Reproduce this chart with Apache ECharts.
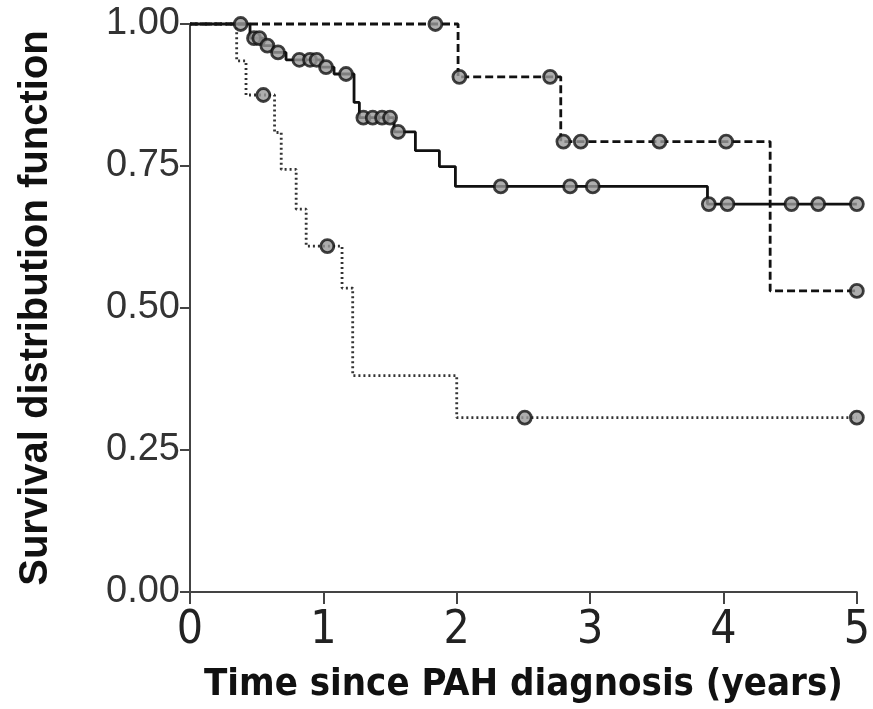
<!DOCTYPE html>
<html>
<head>
<meta charset="utf-8">
<style>html,body{margin:0;padding:0;background:#fff;}#c{width:873px;height:709px;}</style>
<script src="https://cdn.jsdelivr.net/npm/echarts@6/dist/echarts.min.js"></script>
</head>
<body>
<div id="c"></div>
<script>
// Axis ticks
const xTicks = [0, 1, 2, 3, 4, 5];
const yTicks = [0, 0.25, 0.5, 0.75, 1.0];
const xTitle = 'Time since PAH diagnosis (years)';
const yTitle = 'Survival distribution function';

// Solid curve: [time, survival] at each step
const solidSteps = [[0,1],[0.45,0.975],[0.55,0.962],[0.62,0.950],[0.72,0.937],[0.98,0.924],[1.08,0.912],[1.23,0.862],[1.27,0.835],[1.53,0.810],[1.69,0.777],[1.87,0.749],[1.99,0.714],[3.88,0.683],[5.0,0.683]];
const solidCensored = [[0.48,0.975],[0.52,0.975],[0.58,0.962],[0.66,0.950],[0.82,0.937],[0.90,0.937],[0.95,0.937],[1.02,0.924],[1.17,0.912],[1.30,0.835],[1.37,0.835],[1.44,0.835],[1.50,0.835],[1.56,0.810],[2.33,0.714],[2.85,0.714],[3.02,0.714],[3.89,0.683],[4.03,0.683],[4.51,0.683],[4.71,0.683],[5.0,0.683]];

// Dashed curve
const dashedSteps = [[0,1],[2.01,0.907],[2.78,0.793],[4.35,0.530],[5.0,0.530]];
const dashedCensored = [[0.38,1],[1.84,1],[2.02,0.907],[2.70,0.907],[2.80,0.793],[2.93,0.793],[3.52,0.793],[4.02,0.793],[5.0,0.530]];

// Dotted curve
const dottedSteps = [[0,1],[0.35,0.935],[0.42,0.875],[0.634,0.809],[0.684,0.744],[0.796,0.674],[0.871,0.609],[1.14,0.535],[1.22,0.381],[2.0,0.307],[5.0,0.307]];
const dottedCensored = [[0.55,0.875],[1.03,0.609],[2.51,0.307],[5.0,0.307]];

const chart = echarts.init(document.getElementById('c'));
const markStyle = {color:'#9a9a9a', borderColor:'#111', borderWidth:2.8};
function stepSeries(data, type, color){
  return {type:'line', step:'end', data:data, symbol:'none', clip:false,
    lineStyle:{color:color, width:2.8, type:type}, z:2};
}
function censorSeries(data){
  return {type:'scatter', data:data, symbol:'circle', symbolSize:13, clip:false,
    itemStyle:markStyle, z:3};
}
chart.setOption({
  animation:false,
  backgroundColor:'#fff',
  grid:{left:190, right:13, top:24, bottom:115},
  xAxis:{type:'value', min:xTicks[0], max:xTicks[xTicks.length-1], interval:1,
    splitLine:{show:false},
    axisLine:{lineStyle:{color:'#444', width:2}},
    axisTick:{length:12, lineStyle:{color:'#444', width:2}},
    axisLabel:{margin:16, fontSize:46, color:'#222', fontFamily:'"Liberation Sans Narrow","DejaVu Sans Condensed",sans-serif'},
    name:xTitle, nameLocation:'middle', nameGap:74,
    nameTextStyle:{fontSize:38, fontWeight:'bold', color:'#111', fontFamily:'"Liberation Sans Narrow","DejaVu Sans Condensed",sans-serif'}
  },
  yAxis:{type:'value', min:yTicks[0], max:yTicks[yTicks.length-1], interval:0.25,
    splitLine:{show:false},
    axisLine:{show:true, lineStyle:{color:'#444', width:2}},
    axisTick:{show:true, length:10, lineStyle:{color:'#444', width:2}},
    axisLabel:{margin:10, fontSize:38, color:'#333', fontFamily:'"Liberation Sans",Arial,sans-serif',
      formatter:v=>v.toFixed(2)},
    name:yTitle, nameLocation:'middle', nameGap:134,
    nameTextStyle:{fontSize:40, fontWeight:'bold', color:'#111', fontFamily:'"Liberation Sans",Arial,sans-serif'}
  },
  series:[
    stepSeries(dottedSteps, [2,3], '#333'),
    stepSeries(dashedSteps, [8,4], '#111'),
    stepSeries(solidSteps, 'solid', '#111'),
    censorSeries(dottedCensored),
    censorSeries(dashedCensored),
    censorSeries(solidCensored)
  ]
});
</script>
</body>
</html>
